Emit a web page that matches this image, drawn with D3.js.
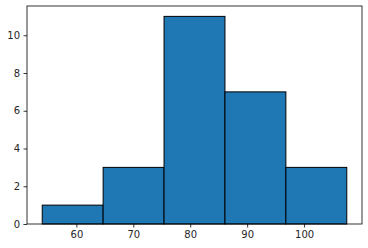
<!DOCTYPE html>
<html lang="en">
<head>
  <meta charset="UTF-8">
  <title>Histogram</title>
  <script src="https://d3js.org/d3.v7.min.js"></script>
  <style>
    body { margin: 0; background: #fff; }
    text { font-family: "DejaVu Sans", sans-serif; font-size: 10px; fill: #262626; }
    .bar { fill: #1f77b4; stroke: #000; stroke-width: 1px; }
  </style>
</head>
<body>
  <svg width="368" height="248"></svg>
  <script>
    // bin edges and counts
    const binEdges = [54, 64.7, 75.4, 86.1, 96.8, 107.5];
    const counts = [1, 3, 11, 7, 3];
    const xTicks = [60, 70, 80, 90, 100];
    const yTicks = [0, 2, 4, 6, 8, 10];

    const bins = counts.map((c, i) => ({ x0: binEdges[i], x1: binEdges[i + 1], count: c }));

    const svg = d3.select("svg");
    const mLeft = 27, mRight = 362, mTop = 6, mBottom = 224;

    const span = binEdges[binEdges.length - 1] - binEdges[0];
    const x = d3.scaleLinear()
      .domain([binEdges[0] - span * 0.05, binEdges[binEdges.length - 1] + span * 0.05])
      .range([mLeft, mRight]);
    const y = d3.scaleLinear()
      .domain([0, d3.max(counts) * 1.05])
      .range([mBottom, mTop]);

    svg.append("g")
      .selectAll("rect")
      .data(bins)
      .enter().append("rect")
      .attr("class", "bar")
      .attr("x", d => x(d.x0))
      .attr("y", d => y(d.count))
      .attr("width", d => x(d.x1) - x(d.x0))
      .attr("height", d => y(0) - y(d.count));

    // frame
    svg.append("rect")
      .attr("x", mLeft).attr("y", mTop)
      .attr("width", mRight - mLeft).attr("height", mBottom - mTop)
      .attr("fill", "none").attr("stroke", "#000").attr("stroke-width", 0.8);

    const xAxis = svg.append("g")
      .attr("transform", `translate(0,${mBottom})`)
      .call(d3.axisBottom(x).tickValues(xTicks).tickSize(3.5).tickPadding(3.5));
    const yAxis = svg.append("g")
      .attr("transform", `translate(${mLeft},0)`)
      .call(d3.axisLeft(y).tickValues(yTicks).tickSize(3.5).tickPadding(3.5));

    [xAxis, yAxis].forEach(a => {
      a.select(".domain").remove();
      a.selectAll("line").attr("stroke", "#000").attr("stroke-width", 0.8);
      a.selectAll("text").attr("font-family", "DejaVu Sans").attr("font-size", 10).attr("fill", "#262626");
    });
  </script>
</body>
</html>
